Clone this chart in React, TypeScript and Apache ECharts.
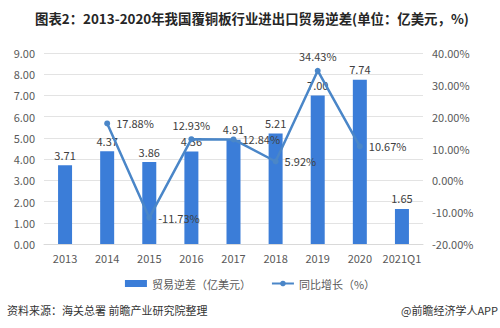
import React, { useEffect, useRef } from "react";
import * as echarts from "echarts";

const categories = ["2013", "2014", "2015", "2016", "2017", "2018", "2019", "2020", "2021Q1"];
const tradeDeficit = [3.71, 4.37, 3.86, 4.36, 4.91, 5.21, 7.0, 7.74, 1.65];
const yoyGrowth: (number | null)[] = [null, 17.88, -11.73, 12.93, 12.84, 5.92, 34.43, 10.67, null];
const growthLabelPos = ["right", "right", "right", "top", "right", "right", "top", "right", "right"];

const FONT = "'Noto Sans CJK SC', 'Noto Sans', sans-serif";

export default function App() {
  const ref = useRef<HTMLDivElement>(null);
  useEffect(() => {
    if (!ref.current) return;
    const chart = echarts.init(ref.current, null, { renderer: "svg" });
    chart.setOption({
      animation: false,
      textStyle: { fontFamily: FONT },
      title: {
        text: "图表2：2013-2020年我国覆铜板行业进出口贸易逆差(单位：亿美元，%)",
        left: 30,
        top: 6,
        textStyle: { fontSize: 13.4, fontWeight: "bold", color: "#262626", fontFamily: FONT },
      },
      legend: {
        top: 273,
        left: "center",
        itemGap: 20,
        itemWidth: 22,
        itemHeight: 7,
        textStyle: { fontSize: 11, color: "#595959", fontFamily: FONT },
        data: [
          { name: "贸易逆差（亿美元）", icon: "rect" },
          { name: "同比增长（%）" },
        ],
      },
      grid: { left: 44, right: 77, top: 53, bottom: 84, containLabel: false },
      xAxis: {
        type: "category",
        data: categories,
        axisLine: { show: true, lineStyle: { color: "#d9d9d9" } },
        axisTick: { show: false },
        axisLabel: { color: "#595959", fontSize: 11, margin: 8, interval: 0, fontFamily: FONT },
      },
      yAxis: [
        {
          type: "value",
          min: 0,
          max: 9,
          interval: 1,
          axisLine: { show: false },
          axisTick: { show: false },
          splitLine: { lineStyle: { color: "#e3e3e3" } },
          axisLabel: {
            color: "#595959",
            fontSize: 11,
            margin: 9,
            fontFamily: FONT,
            formatter: (v: number) => v.toFixed(2),
          },
        },
        {
          type: "value",
          min: -20,
          max: 40,
          interval: 10,
          axisLine: { show: false },
          axisTick: { show: false },
          splitLine: { show: false },
          axisLabel: {
            color: "#595959",
            fontSize: 11,
            margin: 9,
            fontFamily: FONT,
            formatter: (v: number) => v.toFixed(2) + "%",
          },
        },
      ],
      series: [
        {
          name: "贸易逆差（亿美元）",
          type: "bar",
          data: tradeDeficit,
          barWidth: 14,
          itemStyle: { color: "#3b7dd8" },
          z: 1,
          label: {
            show: true,
            position: "top",
            distance: 5,
            color: "#404040",
            fontSize: 11,
            fontFamily: FONT,
            formatter: (p: any) => p.value.toFixed(2),
          },
        },
        {
          name: "同比增长（%）",
          type: "line",
          yAxisIndex: 1,
          data: yoyGrowth.map((v, i) => ({
            value: v,
            label: { position: growthLabelPos[i] },
          })),
          connectNulls: false,
          symbol: "circle",
          symbolSize: 6,
          showAllSymbol: true,
          lineStyle: { color: "#4a86c8", width: 2.5 },
          itemStyle: { color: "#4a86c8" },
          z: 3,
          label: {
            show: true,
            color: "#404040",
            fontSize: 11,
            fontFamily: FONT,
            distance: 6,
            formatter: (p: any) => (p.value == null ? "" : p.value.toFixed(2) + "%"),
          },
        },
      ],
      graphic: [
        {
          type: "text",
          left: 7,
          top: 304,
          style: { text: "资料来源：海关总署 前瞻产业研究院整理", fontSize: 11, fill: "#333333", fontFamily: FONT },
        },
        {
          type: "text",
          right: 2,
          top: 304,
          style: { text: "@前瞻经济学人APP", fontSize: 11, fill: "#333333", fontFamily: FONT },
        },
      ],
    });
    return () => chart.dispose();
  }, []);
  return <div ref={ref} style={{ width: 500, height: 328, position: "absolute", left: 0, top: 0, background: "#fff" }} />;
}
